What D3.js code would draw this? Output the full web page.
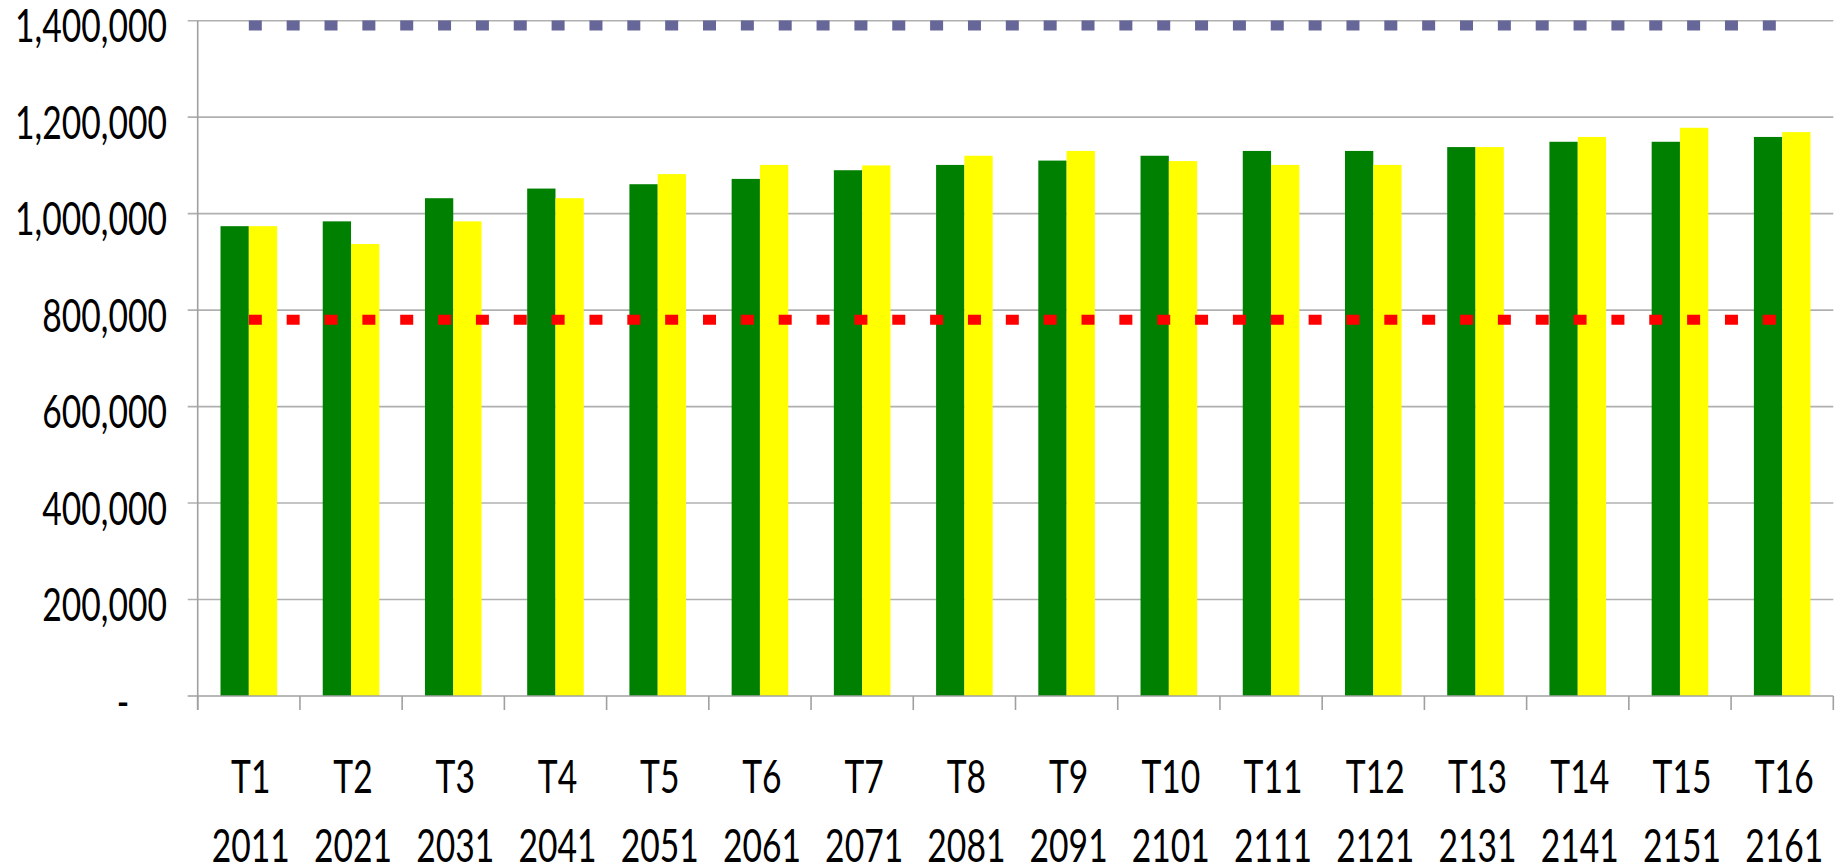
<!DOCTYPE html>
<html>
<head>
<meta charset="utf-8">
<script src="https://cdn.jsdelivr.net/npm/d3@7"></script>
<style>
  html, body { margin: 0; padding: 0; background: #fff; }
  svg text { font-family: Lato, "Liberation Sans", sans-serif; fill: #000; }
</style>
</head>
<body>
<svg id="chart" width="1847" height="867"></svg>
<script>
// Periods and their start years
const periods = ["T1","T2","T3","T4","T5","T6","T7","T8","T9","T10","T11","T12","T13","T14","T15","T16"];
const years = ["2011","2021","2031","2041","2051","2061","2071","2081","2091","2101","2111","2121","2131","2141","2151","2161"];

// Two bar series per period
const seriesNames = ["green", "yellow"];
const greenValues  = [974000, 984000, 1032000, 1052000, 1061000, 1072000, 1090000, 1101000, 1110000, 1120000, 1130000, 1130000, 1138000, 1149000, 1149000, 1159000];
const yellowValues = [974000, 937000, 984000, 1032000, 1082000, 1101000, 1100000, 1120000, 1130000, 1109000, 1101000, 1101000, 1138000, 1159000, 1178000, 1169000];

// Horizontal reference levels
const upperLevel = 1390000;
const lowerLevel = 780000;

// Value axis ticks
const yTicks = [0, 200000, 400000, 600000, 800000, 1000000, 1200000, 1400000];

const colors = { green: "#008000", yellow: "#ffff00", upper: "#666699", lower: "#ff0000", grid: "#b0b0b0", axis: "#a0a0a0" };

const svg = d3.select("#chart");
const plotLeft = 197.7, plotRight = 1833.3, plotTop = 20.7, plotBottom = 696;
const fontSize = 46;

const x = d3.scaleBand().domain(periods).range([plotLeft, plotRight]).paddingInner(0).paddingOuter(0);
const x1 = d3.scaleBand().domain(seriesNames).range([0, x.bandwidth()]).paddingInner(0).paddingOuter(0.806);
const y = d3.scaleLinear().domain([0, 1400000]).range([plotBottom, plotTop]);

const fmt = d3.format(",");

// Labels use a condensed rendering: measure a reference label and squeeze horizontally
const probe = svg.append("text").attr("font-size", fontSize).text(fmt(1400000));
const squeeze = 152 / probe.node().getComputedTextLength();
probe.remove();

function label(parent, tx, ty, anchor, str) {
  parent.append("g")
    .attr("transform", `translate(${tx},${ty}) scale(${squeeze},1)`)
    .append("text")
    .attr("text-anchor", anchor)
    .attr("font-size", fontSize)
    .text(str);
}

// Horizontal gridlines
svg.append("g")
  .selectAll("line")
  .data(yTicks.filter(d => d > 0))
  .join("line")
  .attr("x1", plotLeft - 10).attr("x2", plotRight)
  .attr("y1", d => y(d)).attr("y2", d => y(d))
  .attr("stroke", colors.grid).attr("stroke-width", 1.6);

// Bars
const rows = periods.map((p, i) => ({ period: p, values: [greenValues[i], yellowValues[i]] }));
svg.append("g")
  .selectAll("g")
  .data(rows)
  .join("g")
  .attr("transform", d => `translate(${x(d.period)},0)`)
  .selectAll("rect")
  .data(d => seriesNames.map((s, j) => ({ s, v: d.values[j] })))
  .join("rect")
  .attr("x", d => x1(d.s))
  .attr("width", x1.bandwidth())
  .attr("y", d => y(d.v))
  .attr("height", d => y(0) - y(d.v))
  .attr("fill", d => colors[d.s]);

// Reference levels as square-dot lines from first to last period centre
const cx = p => x(p) + x.bandwidth() / 2;
[[upperLevel, colors.upper], [lowerLevel, colors.lower]].forEach(([v, c]) => {
  svg.append("line")
    .attr("x1", cx(periods[0])).attr("x2", cx(periods[periods.length - 1]))
    .attr("y1", y(v)).attr("y2", y(v))
    .attr("stroke", c).attr("stroke-width", 10)
    .attr("stroke-dasharray", "13 24.85");
});

// Value axis line and zero baseline
svg.append("line").attr("x1", plotLeft).attr("x2", plotLeft).attr("y1", plotTop).attr("y2", plotBottom + 14)
  .attr("stroke", colors.axis).attr("stroke-width", 1.6);
svg.append("line").attr("x1", plotLeft - 10).attr("x2", plotRight).attr("y1", plotBottom).attr("y2", plotBottom)
  .attr("stroke", colors.axis).attr("stroke-width", 1.6);

// Category boundary ticks
const bounds = periods.map(p => x(p)).concat([plotRight]);
svg.append("g").selectAll("line").data(bounds).join("line")
  .attr("x1", d => d).attr("x2", d => d)
  .attr("y1", plotBottom).attr("y2", plotBottom + 14)
  .attr("stroke", colors.axis).attr("stroke-width", 1.6);

// Value axis labels
const yLab = svg.append("g");
yTicks.forEach(d => {
  if (d === 0) label(yLab, 123, y(d) + 21.5, "middle", "-");
  else label(yLab, 167, y(d) + 21.5, "end", fmt(d));
});

// Category labels: period name and year
const xLab = svg.append("g");
periods.forEach((p, i) => {
  label(xLab, cx(p) + 2, 792.7, "middle", p);
  label(xLab, cx(p) + 2, 862, "middle", years[i]);
});
</script>
</body>
</html>
